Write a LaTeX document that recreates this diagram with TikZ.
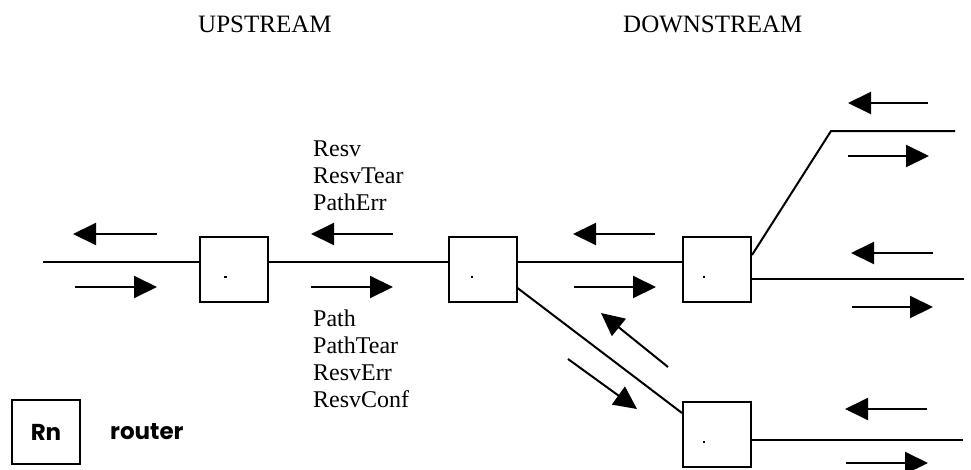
\documentclass[tikz,border=0pt]{standalone}
\usepackage{fontspec}
\setmainfont{Liberation Serif}
\newfontfamily\gothic{Poppins}
\usetikzlibrary{arrows.meta}
\tikzset{
  router/.style={draw, line width=2pt, minimum width=68pt, minimum height=65pt, inner sep=0pt},
  wire/.style={line width=2pt},
  msg/.style={line width=2pt, -{Triangle[length=23pt,width=22pt]}},
  lbl/.style={font=\fontsize{24}{27}\selectfont, anchor=base west, inner sep=0pt},
  hdr/.style={font=\fontsize{25}{28}\selectfont, anchor=base west, inner sep=0pt},
  legend/.style={font=\gothic\bfseries\fontsize{23}{26}\selectfont, inner sep=0pt},
  dotmark/.style={fill=black, minimum size=2.5pt, inner sep=0pt}
}
\begin{document}
\begin{tikzpicture}[x=1pt, y=-1pt]
\useasboundingbox (0,0) rectangle (971,469);

% headers
\node[hdr] (up) at (198,32) {UPSTREAM};
\node[hdr] (down) at (623,32) {DOWNSTREAM};

% routers
\node[router] (b1) at (234,269.5) {};
\node[router] (b2) at (482.5,269.5) {};
\node[router] (b3) at (717,269.5) {};
\node[router] (b4) at (717,434.5) {};
\node[dotmark] (d1) at (225.5,277) {};
\node[dotmark] (d2) at (472,277) {};
\node[dotmark] (d3) at (704,277) {};
\node[dotmark] (d4) at (704,442) {};

% wires
\coordinate (w0) at (43,262);
\coordinate (c3a) at (831,131);
\coordinate (e3a) at (955,131);
\coordinate (e3b) at (964,279);
\coordinate (e4) at (963,440);
\draw[wire] (w0) -- (w0 -| b1.west);
\draw[wire] (w0 -| b1.east) -- (w0 -| b2.west);
\draw[wire] (w0 -| b2.east) -- (w0 -| b3.west);
\draw[wire] ([yshift=-18.5pt]b2.east) -- ([yshift=21.5pt]b4.west);
\draw[wire] ([yshift=14.5pt]b3.east) -- (c3a) -- (e3a);
\draw[wire] (e3b -| b3.east) -- (e3b);
\draw[wire] (e4 -| b4.east) -- (e4);

% message arrows
\draw[msg] (157,234) -- (73,234);
\draw[msg] (75,287) -- (157,287);
\draw[msg] (393,234) -- (311,234);
\draw[msg] (311,287) -- (393,287);
\draw[msg] (655,234) -- (573,234);
\draw[msg] (574,287) -- (656,287);
\draw[msg] (668,367) -- (601,313);
\draw[msg] (568,359) -- (637,409);
\draw[msg] (928,103) -- (848,103);
\draw[msg] (848,156) -- (929,156);
\draw[msg] (933,253) -- (851,253);
\draw[msg] (852,307) -- (933,307);
\draw[msg] (927,409) -- (845,409);
\draw[msg] (846,463) -- (928,463);

% message labels
\node[lbl] (t1) at (313,156) {Resv};
\node[lbl] (t2) at (313,183) {ResvTear};
\node[lbl] (t3) at (313,210) {PathErr};
\node[lbl] (t4) at (313,326) {Path};
\node[lbl] (t5) at (313,353) {PathTear};
\node[lbl] (t6) at (313,380) {ResvErr};
\node[lbl] (t7) at (313,407) {ResvConf};

% legend
\node[router, minimum width=68pt, minimum height=64pt, line width=1.6pt] (rn) at (46,432) {};
\node[legend] (rnt) at (46,432) {Rn};
\node[legend, anchor=west] (rt) at (110,432) {router};
\end{tikzpicture}
\end{document}
